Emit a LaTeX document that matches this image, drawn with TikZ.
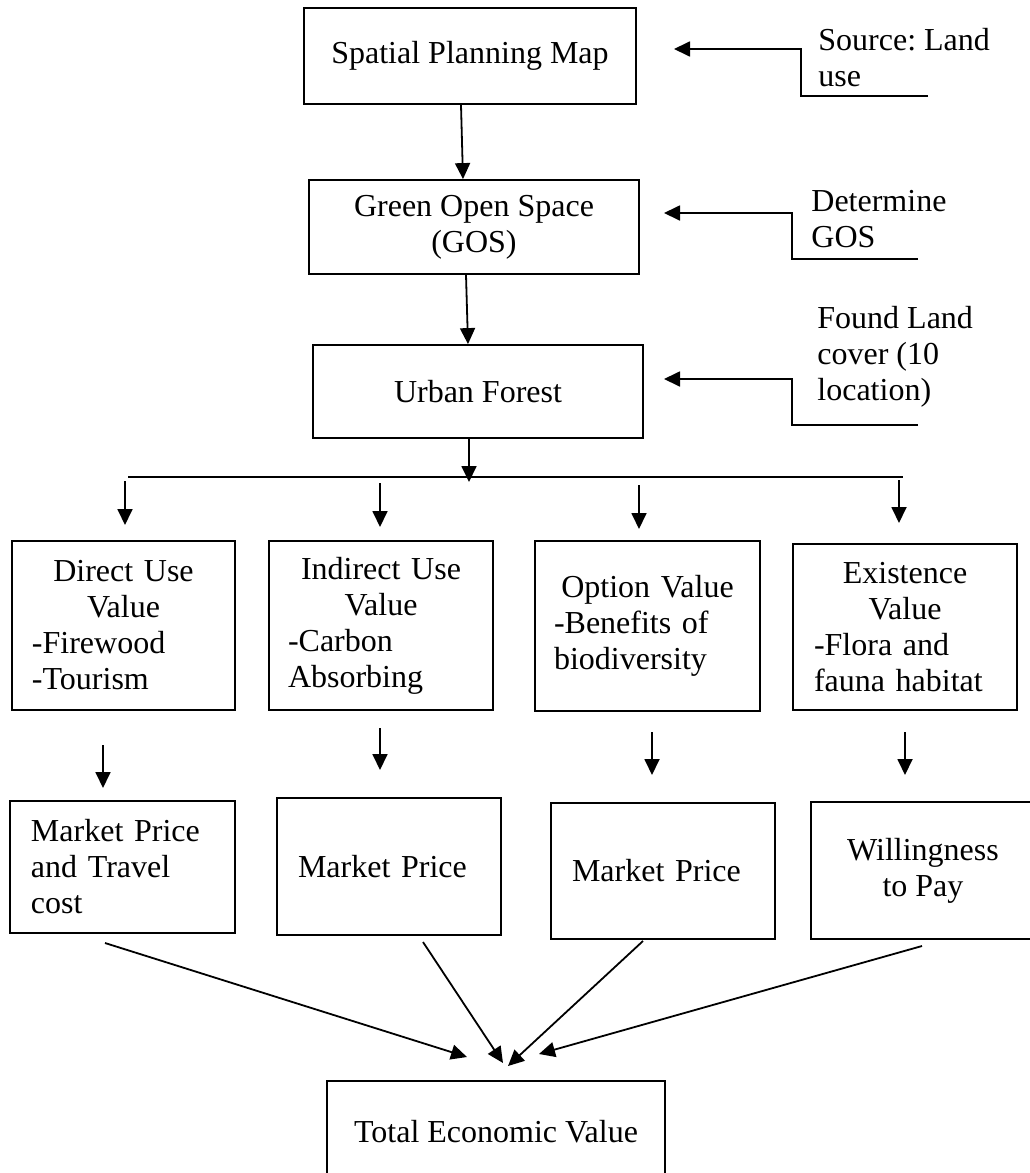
\documentclass[tikz,border=0pt]{standalone}
\usepackage{fontspec}
\setmainfont{Liberation Serif}
\usetikzlibrary{arrows.meta}
\frenchspacing
\begin{document}
\begin{tikzpicture}[x=0.5pt,y=-0.5pt,
  every node/.style={font=\fontsize{16}{18}\selectfont},
  box/.style={draw,line width=0.9pt,inner sep=0pt},
  ln/.style={line width=0.9pt},
  arr/.style={line width=0.9pt,-{Triangle[length=8pt,width=7.5pt]}},
  note/.style={inner sep=0pt,anchor=north west,align=left}]
\useasboundingbox (0,0) rectangle (1029,1173);

% main chain
\node[box,minimum width=166pt,minimum height=48pt] (b1) at (470,56) {Spatial Planning Map};
\node[box,minimum width=165pt,minimum height=47pt,align=center] (b2) at (474,227) {Green Open Space\\(GOS)};
\node[box,minimum width=165pt,minimum height=46.5pt] (b3) at (478,391.5) {Urban Forest};

% notes
\node[note] (n1) at (818,28) {Source: Land\\use};
\node[note] (n2) at (811,190) {Determine\\GOS};
\node[note] (n3) at (817,306) {Found Land\\cover (10\\location)};

% value boxes
\node[box,minimum width=111.5pt,minimum height=84.5pt,text width=91.5pt] (vA) at (123.5,625.5)
  {{\centering Direct Use\\Value\par}\raggedright -Firewood\\-Tourism};
\node[box,minimum width=112pt,minimum height=84.5pt,text width=93pt] (vB) at (381,625.5)
  {{\centering Indirect Use\\Value\par}\raggedright -Carbon\\Absorbing};
\node[box,minimum width=112.5pt,minimum height=85pt,text width=93.5pt] (vC) at (647.5,626)
  {{\centering Option Value\par}\raggedright -Benefits of\\biodiversity};
\node[box,minimum width=112pt,minimum height=83pt,text width=91pt] (vD) at (905,627)
  {{\centering Existence\\Value\par}\raggedright -Flora and\\fauna habitat};

% method boxes
\node[box,minimum width=112.5pt,minimum height=66pt,text width=91.5pt] (mE) at (122.5,867)
  {\raggedright Market Price\\and Travel\\cost};
\node[box,minimum width=112pt,minimum height=68.5pt,text width=91pt] (mF) at (389,866.5)
  {\raggedright Market Price};
\node[box,minimum width=112pt,minimum height=68pt,text width=91pt] (mG) at (663,871)
  {\raggedright Market Price};
\node[box,minimum width=112pt,minimum height=68.5pt,align=center] (mH) at (923,870.5)
  {Willingness\\to Pay};

% total
\node[box,minimum width=169pt,minimum height=51pt] (tev) at (496,1132) {Total Economic Value};

% note connectors
\coordinate (n1e) at (928,96); \coordinate (n1k) at (801,96); \coordinate (n1j) at (801,49); \coordinate (n1t) at (674,49);
\coordinate (n2e) at (918,259); \coordinate (n2k) at (792,259); \coordinate (n2j) at (792,213); \coordinate (n2t) at (664,213);
\coordinate (n3e) at (918,425); \coordinate (n3k) at (792,425); \coordinate (n3j) at (792,379); \coordinate (n3t) at (664,379);
\draw[arr] (n1e) -- (n1k) -- (n1j) -- (n1t);
\draw[arr] (n2e) -- (n2k) -- (n2j) -- (n2t);
\draw[arr] (n3e) -- (n3k) -- (n3j) -- (n3t);

% chain arrows
\draw[arr] (b1.south -| 461,0) -- (b2.north -| 463,0);
\draw[arr] (b2.south -| 466,0) -- (b3.north -| 468,0);
\coordinate (jn) at (469,482);
\draw[arr] (b3.south -| 469,0) -- (jn);
\coordinate (hl) at (128,477); \coordinate (hr) at (903,477);
\draw[ln] (hl) -- (hr);

% branch arrows
\coordinate (a1s) at (125,481); \coordinate (a1t) at (125,525);
\coordinate (a2s) at (380,483); \coordinate (a2t) at (380,527);
\coordinate (a3s) at (639,485); \coordinate (a3t) at (639,529);
\coordinate (a4s) at (899,480); \coordinate (a4t) at (899,523);
\draw[arr] (a1s) -- (a1t);
\draw[arr] (a2s) -- (a2t);
\draw[arr] (a3s) -- (a3t);
\draw[arr] (a4s) -- (a4t);

% second arrows
\coordinate (c1s) at (103,745); \coordinate (c1t) at (103,788);
\coordinate (c2s) at (380,728); \coordinate (c2t) at (380,770);
\coordinate (c3s) at (652,732); \coordinate (c3t) at (652,775);
\coordinate (c4s) at (905,732); \coordinate (c4t) at (905,775);
\draw[arr] (c1s) -- (c1t);
\draw[arr] (c2s) -- (c2t);
\draw[arr] (c3s) -- (c3t);
\draw[arr] (c4s) -- (c4t);

% converging arrows
\coordinate (d1s) at (105,943); \coordinate (d1t) at (467,1057);
\coordinate (d2s) at (423,942); \coordinate (d2t) at (503,1063);
\coordinate (d3s) at (643,941); \coordinate (d3t) at (508,1066);
\coordinate (d4s) at (922,946); \coordinate (d4t) at (539,1054);
\draw[arr] (d1s) -- (d1t);
\draw[arr] (d2s) -- (d2t);
\draw[arr] (d3s) -- (d3t);
\draw[arr] (d4s) -- (d4t);
\end{tikzpicture}
\end{document}
